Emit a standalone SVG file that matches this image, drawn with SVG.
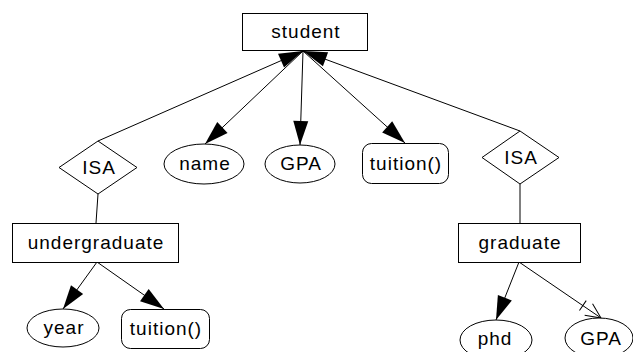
<svg xmlns="http://www.w3.org/2000/svg" width="633" height="352" viewBox="0 0 633 352">
<style>
.box{fill:#fff;stroke:#000;stroke-width:1}
.ln{fill:none;stroke:#000;stroke-width:1}
text{font-family:"Liberation Sans",Arial,sans-serif;font-size:19px;letter-spacing:1px;text-anchor:middle;fill:#000}
</style>
<defs>
<marker id="fa" viewBox="-24 -7 24 14" refX="0" refY="0" markerWidth="24" markerHeight="14" markerUnits="userSpaceOnUse" orient="auto" overflow="visible">
<path d="M0,0 L-24,-7.5 L-24,7.5 Z" fill="#000"/>
</marker>
<marker id="oa" viewBox="-26 -8 26 16" refX="0" refY="0" markerWidth="26" markerHeight="16" markerUnits="userSpaceOnUse" orient="auto" overflow="visible">
<path d="M-15,-7 L0,0 L-15,7 M-22,-6 L-22,6" fill="none" stroke="#000" stroke-width="1"/>
</marker>
</defs>
<rect width="633" height="352" fill="#fff"/>
<g id="connectors">
<path class="ln" d="M98,141 L303,51" marker-end="url(#fa)"/>
<path class="ln" d="M520,131 L303,51" marker-end="url(#fa)"/>
<path class="ln" d="M303,51 L205,144" marker-end="url(#fa)"/>
<path class="ln" d="M303,51 L300,145" marker-end="url(#fa)"/>
<path class="ln" d="M303,51 L405,143" marker-end="url(#fa)"/>
<path class="ln" d="M98,194 L96,223"/>
<path class="ln" d="M520,184 L520,223"/>
<path class="ln" d="M97,262 L63,309" marker-end="url(#fa)"/>
<path class="ln" d="M97,262 L164,309" marker-end="url(#fa)"/>
<path class="ln" d="M519,262 L496,320" marker-end="url(#fa)"/>
<path class="ln" d="M519,262 L601,318" marker-end="url(#oa)"/>
</g>
<g id="student"><rect class="box" x="242.5" y="13.5" width="125" height="37"/><text x="306" y="38">student</text></g>
<g id="isa-left"><polygon class="box" points="98,141 137,167.5 98,194 59,167.5"/><text x="99" y="174">ISA</text></g>
<g id="name"><ellipse class="box" cx="204" cy="164" rx="40" ry="20"/><text x="205" y="170">name</text></g>
<g id="gpa"><ellipse class="box" cx="300" cy="164" rx="35" ry="19"/><text x="301" y="170">GPA</text></g>
<g id="tuition"><rect class="box" x="362.5" y="143.5" width="86" height="40" rx="9"/><text x="406" y="170">tuition()</text></g>
<g id="isa-right"><polygon class="box" points="520,131 559,157.5 520,184 482,157.5"/><text x="521" y="164">ISA</text></g>
<g id="undergraduate"><rect class="box" x="12.5" y="223.5" width="166" height="39"/><text x="96" y="249">undergraduate</text></g>
<g id="graduate"><rect class="box" x="458.5" y="223.5" width="122" height="39"/><text x="520" y="249">graduate</text></g>
<g id="year"><ellipse class="box" cx="63" cy="328" rx="36" ry="19"/><text x="64" y="334">year</text></g>
<g id="tuition2"><rect class="box" x="121.5" y="309.5" width="88" height="39" rx="9"/><text x="166" y="335">tuition()</text></g>
<g id="phd"><ellipse class="box" cx="496" cy="340" rx="36" ry="20"/><text x="495" y="345">phd</text></g>
<g id="gpa2"><ellipse class="box" cx="599" cy="338" rx="34" ry="20"/><text x="601" y="345">GPA</text></g>
</svg>
